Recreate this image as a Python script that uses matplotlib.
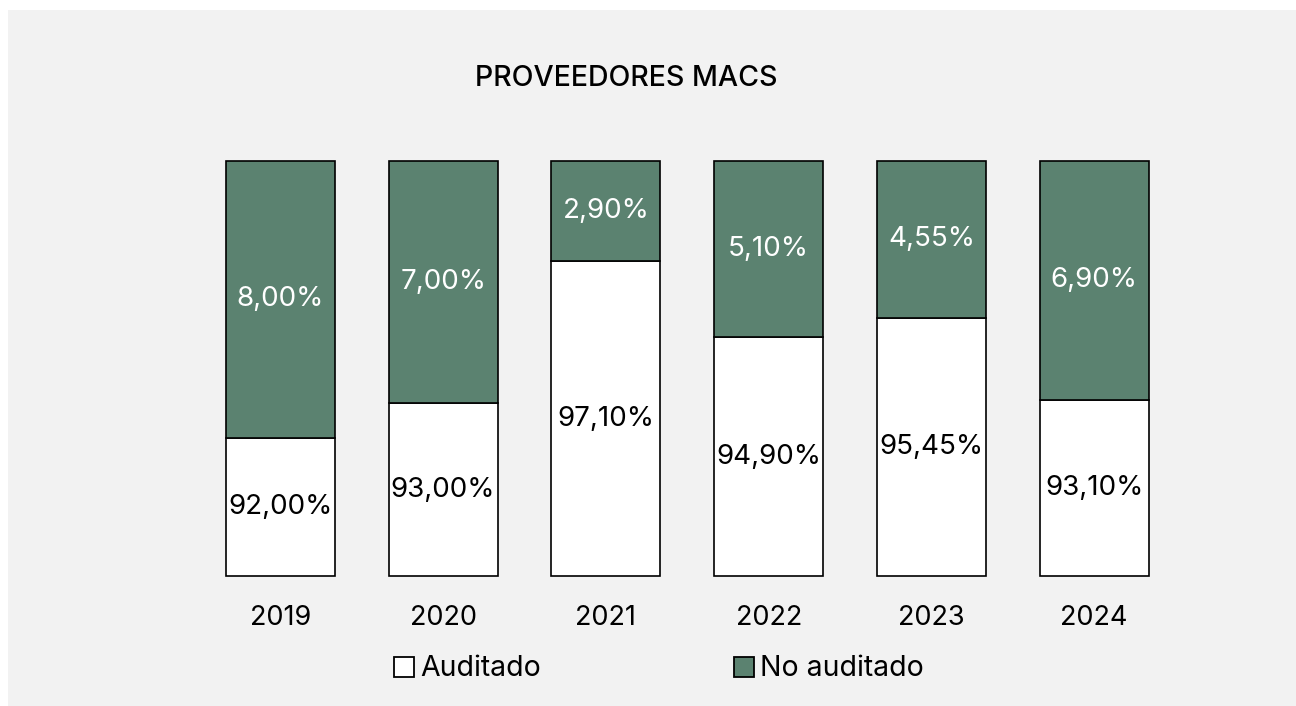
import matplotlib.pyplot as plt
import numpy as np
from matplotlib.patches import Patch

plt.rcParams['font.family'] = ['Inter', 'DejaVu Sans']

# data
years = ['2019', '2020', '2021', '2022', '2023', '2024']
auditado = [92.00, 93.00, 97.10, 94.90, 95.45, 93.10]
no_auditado = [8.00, 7.00, 2.90, 5.10, 4.55, 6.90]
series_names = ['Auditado', 'No auditado']

green = '#5B8270'
bg = '#F2F2F2'
y_min = 88.0  # visible axis starts at 88%

fig = plt.figure(figsize=(12.96, 7.06), dpi=100, facecolor='white')
fig.patches.append(plt.Rectangle((8 / 1296, 0), 1, 1 - 10 / 706,
                                 transform=fig.transFigure, facecolor=bg,
                                 edgecolor='none', zorder=-10))

ax = fig.add_axes([199 / 1296, 129 / 706, 976.5 / 1296, 417 / 706])
ax.set_facecolor('none')

x = np.arange(len(years))
w = 0.67
aud = np.array(auditado)
ax.bar(x, aud - y_min, width=w, bottom=y_min, color='white',
       edgecolor='black', linewidth=1.2)
ax.bar(x, no_auditado, width=w, bottom=aud, color=green,
       edgecolor='black', linewidth=1.2)

ax.set_ylim(y_min - 0.02, 100.02)
ax.set_xlim(-0.5, len(years) - 0.5)

def fmt(v):
    return f'{v:.2f}'.replace('.', ',') + '%'

for i in range(len(years)):
    ax.text(x[i], (y_min + auditado[i]) / 2, fmt(auditado[i]),
            ha='center', va='center', fontsize=20, color='black')
    ax.text(x[i], auditado[i] + no_auditado[i] / 2, fmt(no_auditado[i]),
            ha='center', va='center', fontsize=20, color='white')

ax.set_xticks(x)
ax.set_xticklabels(years, fontsize=19.5)
ax.tick_params(axis='x', length=0, pad=20)
ax.set_yticks([])
for s in ax.spines.values():
    s.set_visible(False)

fig.text(626 / 1296, 1 - 79 / 706, 'PROVEEDORES MACS', ha='center',
         va='center', fontsize=20.5, fontweight='medium')

handles = [Patch(facecolor='white', edgecolor='black', linewidth=1.3),
           Patch(facecolor=green, edgecolor='black', linewidth=1.3)]
fig.legend(handles, series_names, loc='center', ncol=2,
           bbox_to_anchor=(659 / 1296, 1 - 669 / 706), frameon=False,
           fontsize=20.5, handlelength=0.7, handleheight=0.7,
           handletextpad=0.22, columnspacing=6.8, borderpad=0)

fig.savefig('out.png', dpi=100, facecolor=fig.get_facecolor())
